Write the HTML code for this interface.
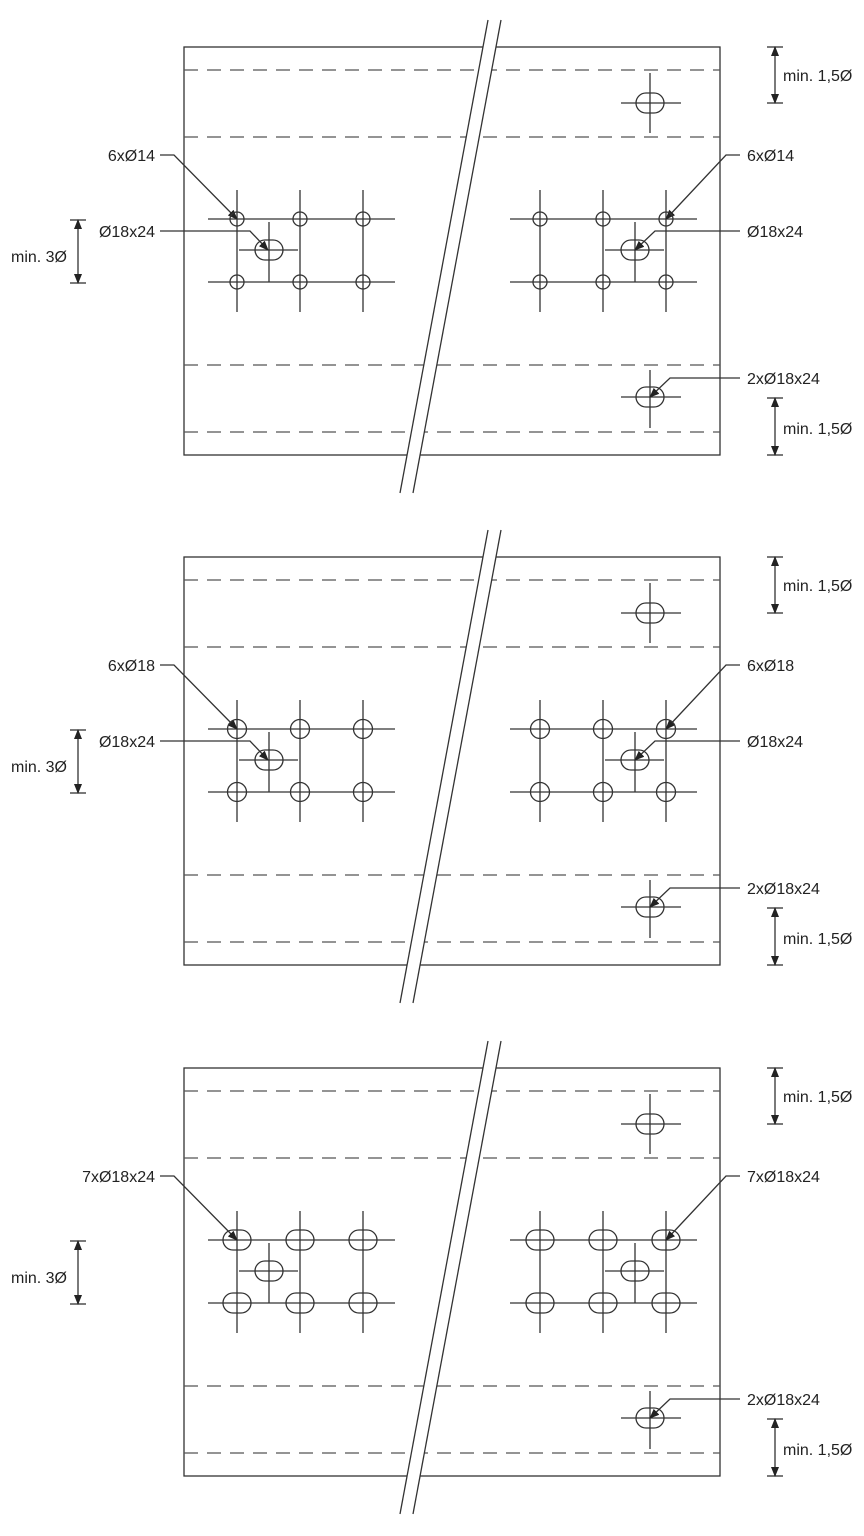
<!DOCTYPE html>
<html><head><meta charset="utf-8"><style>
html,body{margin:0;padding:0;background:#fff;}
svg{display:block}
text{font-family:"Liberation Sans",sans-serif;font-size:16px;fill:#222}
</style></head><body>
<svg width="864" height="1536" viewBox="0 0 864 1536" xmlns="http://www.w3.org/2000/svg">
<defs>
<marker id="ar" markerWidth="10" markerHeight="8" refX="9" refY="4" orient="auto" markerUnits="userSpaceOnUse"><path d="M0,0 L10,4 L0,8 z" fill="#222"/></marker>
<marker id="as" markerWidth="10" markerHeight="8" refX="1" refY="4" orient="auto" markerUnits="userSpaceOnUse"><path d="M10,0 L0,4 L10,8 z" fill="#222"/></marker>
<g id="frame" stroke="#333" fill="none" stroke-width="1.3">
  <rect x="184" y="47" width="536" height="408"/>
  <g stroke-dasharray="14,9" stroke="#555">
    <line x1="184" y1="70" x2="720" y2="70"/>
    <line x1="184" y1="137" x2="720" y2="137"/>
    <line x1="184" y1="365" x2="720" y2="365"/>
    <line x1="184" y1="432" x2="720" y2="432"/>
  </g>
  <polygon points="488,20 501,20 413,493 400,493" fill="#fff" stroke="none"/>
  <line x1="488" y1="20" x2="400" y2="493"/>
  <line x1="501" y1="20" x2="413" y2="493"/>
  <rect x="636" y="93" width="28" height="20" rx="10" />
  <line x1="621" y1="103" x2="681" y2="103"/><line x1="650" y1="73" x2="650" y2="133"/>
  <rect x="636" y="387" width="28" height="20" rx="10" />
  <line x1="621" y1="397" x2="681" y2="397"/><line x1="650" y1="370" x2="650" y2="428"/>
  <line x1="767" y1="47" x2="783" y2="47"/><line x1="767" y1="103" x2="783" y2="103"/>
  <line x1="775" y1="47" x2="775" y2="103" marker-start="url(#as)" marker-end="url(#ar)"/>
  <line x1="767" y1="398" x2="783" y2="398"/><line x1="767" y1="455" x2="783" y2="455"/>
  <line x1="775" y1="398" x2="775" y2="455" marker-start="url(#as)" marker-end="url(#ar)"/>
  <line x1="70" y1="220" x2="86" y2="220"/><line x1="70" y1="283" x2="86" y2="283"/>
  <line x1="78" y1="220" x2="78" y2="283" marker-start="url(#as)" marker-end="url(#ar)"/>
  <line x1="208" y1="219" x2="395" y2="219"/><line x1="208" y1="282" x2="395" y2="282"/>
  <line x1="237" y1="190" x2="237" y2="312"/><line x1="300" y1="190" x2="300" y2="312"/><line x1="363" y1="190" x2="363" y2="312"/>
  <line x1="239" y1="250" x2="298" y2="250"/><line x1="269" y1="222" x2="269" y2="282"/>
  <line x1="510" y1="219" x2="697" y2="219"/><line x1="510" y1="282" x2="697" y2="282"/>
  <line x1="540" y1="190" x2="540" y2="312"/><line x1="603" y1="190" x2="603" y2="312"/><line x1="666" y1="190" x2="666" y2="312"/>
  <line x1="605" y1="250" x2="664" y2="250"/><line x1="635" y1="222" x2="635" y2="282"/>
  <rect x="255" y="240" width="28" height="20" rx="10"/>
  <rect x="621" y="240" width="28" height="20" rx="10"/>
  <polyline points="160,155 174,155 237,219" marker-end="url(#ar)"/>
  <polyline points="740,155 726,155 666,219" marker-end="url(#ar)"/>
  <polyline points="740,378 670,378 650,397" marker-end="url(#ar)"/>
</g>
<g id="lead2" stroke="#333" fill="none" stroke-width="1.3">
  <polyline points="160,231 250,231 268,250" marker-end="url(#ar)"/>
  <polyline points="740,231 655,231 635,250" marker-end="url(#ar)"/>
</g>
</defs>

<!-- Panel 1 -->
<use href="#frame"/>
<use href="#lead2"/>
<g stroke="#333" fill="none" stroke-width="1.3">
  <circle cx="237" cy="219" r="7"/><circle cx="300" cy="219" r="7"/><circle cx="363" cy="219" r="7"/>
  <circle cx="237" cy="282" r="7"/><circle cx="300" cy="282" r="7"/><circle cx="363" cy="282" r="7"/>
  <circle cx="540" cy="219" r="7"/><circle cx="603" cy="219" r="7"/><circle cx="666" cy="219" r="7"/>
  <circle cx="540" cy="282" r="7"/><circle cx="603" cy="282" r="7"/><circle cx="666" cy="282" r="7"/>
</g>
<text x="155" y="161" text-anchor="end">6xØ14</text>
<text x="155" y="237" text-anchor="end">Ø18x24</text>
<text x="67" y="262" text-anchor="end">min. 3Ø</text>
<text x="747" y="161">6xØ14</text>
<text x="747" y="237">Ø18x24</text>
<text x="747" y="384">2xØ18x24</text>
<text x="783" y="81">min. 1,5Ø</text>
<text x="783" y="434">min. 1,5Ø</text>

<!-- Panel 2 -->
<g transform="translate(0,510)">
<use href="#frame"/>
<use href="#lead2"/>
<g stroke="#333" fill="none" stroke-width="1.3">
  <circle cx="237" cy="219" r="9.5"/><circle cx="300" cy="219" r="9.5"/><circle cx="363" cy="219" r="9.5"/>
  <circle cx="237" cy="282" r="9.5"/><circle cx="300" cy="282" r="9.5"/><circle cx="363" cy="282" r="9.5"/>
  <circle cx="540" cy="219" r="9.5"/><circle cx="603" cy="219" r="9.5"/><circle cx="666" cy="219" r="9.5"/>
  <circle cx="540" cy="282" r="9.5"/><circle cx="603" cy="282" r="9.5"/><circle cx="666" cy="282" r="9.5"/>
</g>
<text x="155" y="161" text-anchor="end">6xØ18</text>
<text x="155" y="237" text-anchor="end">Ø18x24</text>
<text x="67" y="262" text-anchor="end">min. 3Ø</text>
<text x="747" y="161">6xØ18</text>
<text x="747" y="237">Ø18x24</text>
<text x="747" y="384">2xØ18x24</text>
<text x="783" y="81">min. 1,5Ø</text>
<text x="783" y="434">min. 1,5Ø</text>
</g>

<!-- Panel 3 -->
<g transform="translate(0,1021)">
<use href="#frame"/>
<g stroke="#333" fill="none" stroke-width="1.3">
  <rect x="223" y="209" width="28" height="20" rx="10"/><rect x="286" y="209" width="28" height="20" rx="10"/><rect x="349" y="209" width="28" height="20" rx="10"/>
  <rect x="223" y="272" width="28" height="20" rx="10"/><rect x="286" y="272" width="28" height="20" rx="10"/><rect x="349" y="272" width="28" height="20" rx="10"/>
  <rect x="526" y="209" width="28" height="20" rx="10"/><rect x="589" y="209" width="28" height="20" rx="10"/><rect x="652" y="209" width="28" height="20" rx="10"/>
  <rect x="526" y="272" width="28" height="20" rx="10"/><rect x="589" y="272" width="28" height="20" rx="10"/><rect x="652" y="272" width="28" height="20" rx="10"/>
</g>
<text x="155" y="161" text-anchor="end">7xØ18x24</text>
<text x="67" y="262" text-anchor="end">min. 3Ø</text>
<text x="747" y="161">7xØ18x24</text>
<text x="747" y="384">2xØ18x24</text>
<text x="783" y="81">min. 1,5Ø</text>
<text x="783" y="434">min. 1,5Ø</text>
</g>
</svg>
</body></html>
